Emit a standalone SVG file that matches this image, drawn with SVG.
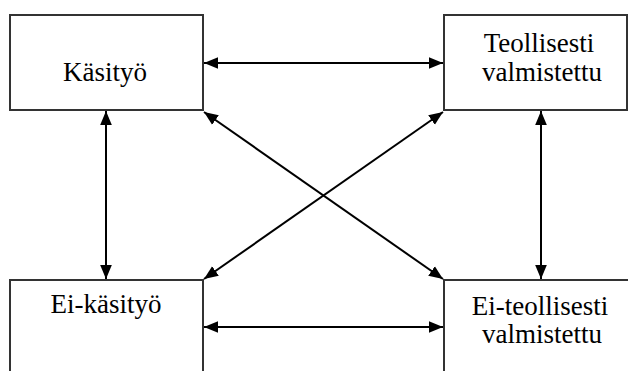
<svg xmlns="http://www.w3.org/2000/svg" width="628" height="371" viewBox="0 0 628 371">
<style>
.box{fill:#fff;stroke:#333;stroke-width:2}
.lbl{font-family:'Liberation Serif','Times New Roman','DejaVu Serif',serif;font-size:27px;fill:#000;text-anchor:middle}
.con line{stroke:#000;stroke-width:2;marker-start:url(#ah);marker-end:url(#ah)}
</style>
<defs>
<marker id="ah" viewBox="0 0 12 10" refX="12" refY="5" markerUnits="userSpaceOnUse" markerWidth="14" markerHeight="12" orient="auto-start-reverse">
<path d="M0,0 L12,5 L0,10 z" fill="#000"/>
</marker>
</defs>
<rect width="628" height="371" fill="#fff"/>
<g id="kasityo"><rect class="box" x="10" y="15" width="193" height="95"/><text class="lbl" x="105" y="81">Käsityö</text></g>
<g id="teollisesti"><rect class="box" x="444" y="15" width="183" height="95"/><text class="lbl" x="539" y="52">Teollisesti</text><text class="lbl" x="542" y="81">valmistettu</text></g>
<g id="ei-kasityo"><rect class="box" x="10" y="280" width="193" height="110"/><text class="lbl" x="106" y="313">Ei-käsityö</text></g>
<g id="ei-teollisesti"><rect class="box" x="444" y="280" width="200" height="110"/><text class="lbl" x="540" y="315">Ei-teollisesti</text><text class="lbl" x="542" y="343">valmistettu</text></g>
<g class="con">
<line x1="204" y1="63" x2="443" y2="63"/>
<line x1="204" y1="327" x2="443" y2="327"/>
<line x1="106" y1="111" x2="106" y2="279"/>
<line x1="541" y1="111" x2="541" y2="279"/>
<line x1="204" y1="112" x2="443" y2="279"/>
<line x1="443" y1="112" x2="204" y2="279"/>
</g>
</svg>
